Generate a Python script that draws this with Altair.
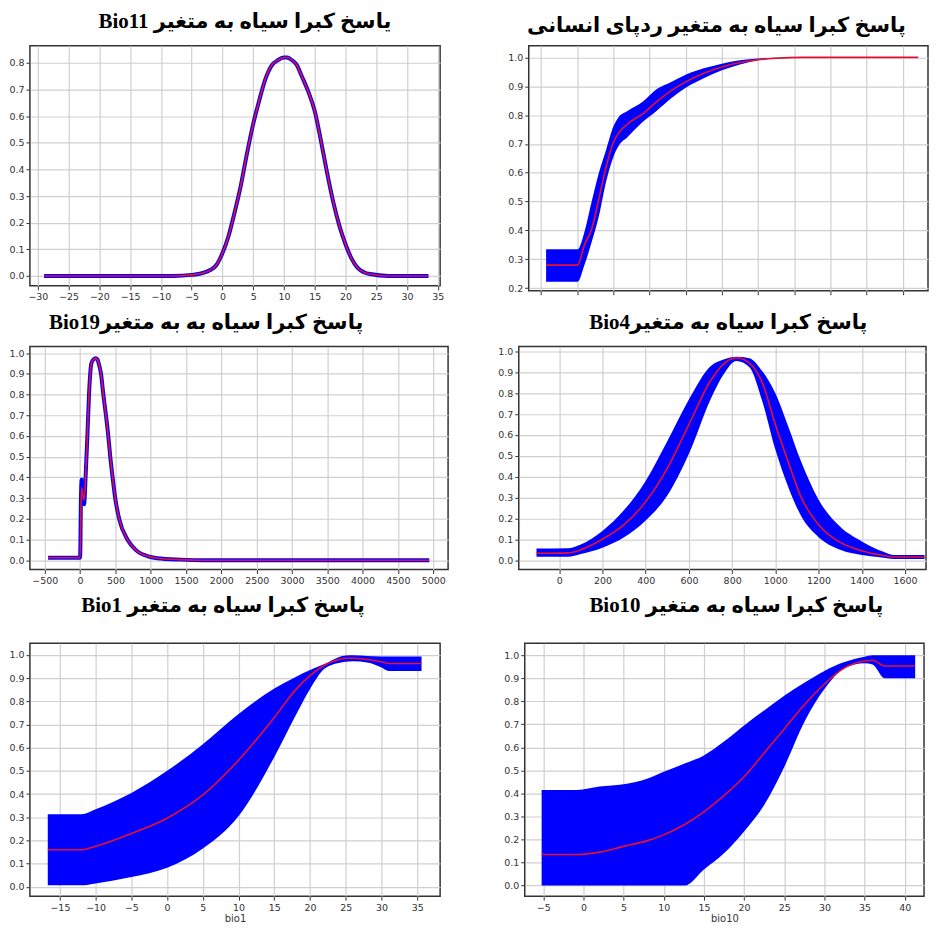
import altair as alt
import pandas as pd

# ---------------- data ----------------
# Bio11 (top-left)
bio11_x = [-29, -8, -5, -3, -2, -1, 0, 1, 2, 3, 4, 5, 6, 7, 8, 9, 10, 10.5, 11, 12, 13, 14, 15, 16, 17,
           18, 19, 20, 21, 22, 23, 24, 27, 33.5]
bio11_mean = [0, 0, 0.004, 0.012, 0.022, 0.04, 0.085, 0.15, 0.24, 0.34, 0.46, 0.57, 0.66, 0.74, 0.79,
              0.81, 0.82, 0.82, 0.815, 0.795, 0.745, 0.69, 0.62, 0.51, 0.39, 0.28, 0.19, 0.12, 0.065,
              0.03, 0.014, 0.007, 0.0, 0.0]

# Human footprint (top-right)
hf_x = [1.4, 10.1, 12, 14, 16, 18, 20, 21.3, 24, 28, 32, 36, 40, 45, 50, 55, 60, 65, 72, 80, 90, 104.3]
hf_mean = [0.28, 0.28, 0.35, 0.405, 0.51, 0.62, 0.705, 0.735, 0.77, 0.803, 0.847, 0.885, 0.915, 0.945,
           0.967, 0.982, 0.992, 0.997, 1.0, 1.0, 1.0, 1.0]
hf_upper = [0.335, 0.335, 0.395, 0.5, 0.6, 0.68, 0.76, 0.79, 0.815, 0.845, 0.89, 0.915, 0.94, 0.962,
            0.978, 0.99, 0.996, 0.999, 1.0, 1.0, 1.0, 1.0]
hf_lower = [0.222, 0.222, 0.28, 0.36, 0.45, 0.57, 0.655, 0.69, 0.725, 0.775, 0.815, 0.858, 0.895, 0.928,
            0.955, 0.975, 0.99, 0.996, 0.999, 1.0, 1.0, 1.0]

# Bio19 (middle-left)
bio19_x = [-453, 0, 12, 23, 40, 56, 80, 103, 126, 159, 190, 220, 245, 263, 296, 329, 366, 399, 427,
           460, 497, 553, 670, 787, 951, 1092, 1419, 1750, 4944]
bio19_mean = [0.012, 0.012, 0.25, 0.35, 0.31, 0.29, 0.42, 0.6, 0.8, 0.95, 0.97, 0.975, 0.97, 0.95, 0.9,
              0.8, 0.7, 0.6, 0.5, 0.4, 0.3, 0.2, 0.1, 0.05, 0.02, 0.01, 0.003, 0.0, 0.0]
bio19_band = [0.012, 0.012, 0.3, 0.39, 0.3, 0.27, 0.42, 0.6, 0.8, 0.95, 0.97, 0.975, 0.97, 0.95, 0.9,
              0.8, 0.7, 0.6, 0.5, 0.4, 0.3, 0.2, 0.1, 0.05, 0.02, 0.01, 0.003, 0.0, 0.0]

# Bio4 (middle-right)
bio4_x = [-105, 40, 100, 200, 300, 400, 500, 600, 700, 760, 820, 880, 940, 1000, 1060, 1120, 1200,
          1300, 1400, 1500, 1545, 1690]
bio4_mean = [0.033, 0.035, 0.05, 0.1, 0.17, 0.28, 0.44, 0.65, 0.86, 0.94, 0.97, 0.945, 0.85, 0.65, 0.47,
             0.3, 0.17, 0.085, 0.045, 0.022, 0.015, 0.015]
bio4_upper = [0.056, 0.057, 0.075, 0.14, 0.24, 0.38, 0.57, 0.77, 0.93, 0.962, 0.975, 0.968, 0.905, 0.8,
              0.64, 0.47, 0.29, 0.16, 0.09, 0.04, 0.025, 0.025]
bio4_lower = [0.016, 0.016, 0.03, 0.06, 0.11, 0.19, 0.31, 0.51, 0.77, 0.89, 0.955, 0.925, 0.76, 0.53,
              0.35, 0.21, 0.11, 0.05, 0.025, 0.012, 0.006, 0.006]

# Bio1 (bottom-left)
bio1_x = [-16.7, -12, -10, -5, 0, 5, 10, 15, 18, 20, 22, 24, 25, 26, 28, 30, 31, 35.6]
bio1_mean = [0.16, 0.16, 0.175, 0.23, 0.296, 0.396, 0.546, 0.73, 0.85, 0.91, 0.955, 0.98, 0.985, 0.985,
             0.98, 0.97, 0.963, 0.963]
bio1_upper = [0.313, 0.313, 0.335, 0.405, 0.5, 0.615, 0.745, 0.855, 0.905, 0.935, 0.96, 0.99, 0.997, 0.998,
              0.995, 0.993, 0.993, 0.993]
bio1_lower = [0.007, 0.007, 0.015, 0.042, 0.082, 0.165, 0.305, 0.56, 0.74, 0.853, 0.94, 0.965, 0.97, 0.972,
              0.967, 0.945, 0.93, 0.93]

# Bio10 (bottom-right)
bio10_x = [-5.2, -0.8, 2, 5, 8, 10, 12.6, 15, 17.5, 20, 22.5, 25, 27.5, 30, 32.5, 35, 36, 37.5, 41.3]
bio10_mean = [0.135, 0.135, 0.145, 0.17, 0.195, 0.22, 0.265, 0.32, 0.39, 0.472, 0.575, 0.68, 0.785, 0.875,
              0.945, 0.975, 0.978, 0.953, 0.953]
bio10_upper = [0.415, 0.415, 0.43, 0.44, 0.465, 0.494, 0.53, 0.565, 0.625, 0.695, 0.76, 0.824, 0.88, 0.932,
               0.97, 0.993, 1.0, 1.0, 1.0]
bio10_lower = [0.0, 0.0, 0.0, 0.0, 0.0, 0.0, 0.0, 0.07, 0.14, 0.235, 0.35, 0.515, 0.71, 0.853, 0.943,
               0.965, 0.96, 0.9, 0.9]

# ---------------- styling helpers ----------------
BLUE = "#0000ff"
RED = "#e8102e"
TITLE_FONT = "Liberation Serif, DejaVu Serif, DejaVu Sans"


def ticks(a, b, s):
    out = []
    v = a
    while v <= b + 1e-9:
        out.append(round(v, 6))
        v += s
    return out


def panel(df, kind, xdom, ydom, xvals, yvals, w, h, title, dx, offset, xtitle=None, xlabels=True):
    xs = alt.Scale(domain=xdom, nice=False, zero=False)
    ys = alt.Scale(domain=ydom, nice=False, zero=False)

    def xax():
        return alt.Axis(values=xvals, labels=xlabels, title=xtitle, format="d", labelFlush=False,
                        labelOverlap=False, tickCount=len(xvals))

    def yax():
        return alt.Axis(values=yvals, format=".1f", title=None, labelFlush=False, labelOverlap=False,
                        tickCount=len(yvals))

    base = alt.Chart(df)
    if kind == "area":
        band = base.mark_area(color=BLUE, opacity=1, interpolate="monotone").encode(
            x=alt.X("x:Q", scale=xs, axis=xax()),
            y=alt.Y("lower:Q", scale=ys, axis=yax()),
            y2="upper:Q",
        )
    else:
        band = base.mark_line(color=BLUE, strokeWidth=4, strokeJoin="round",
                              interpolate="monotone").encode(
            x=alt.X("x:Q", scale=xs, axis=xax()),
            y=alt.Y("band:Q", scale=ys, axis=yax()),
        )
    red = base.mark_line(color=RED, strokeWidth=1.6, interpolate="monotone").encode(
        x=alt.X("x:Q", scale=xs, axis=xax()),
        y=alt.Y("mean:Q", scale=ys, axis=yax()),
    )
    return alt.layer(band, red).properties(
        width=w, height=h,
        title=alt.TitleParams(text=title, font=TITLE_FONT, fontSize=21, fontWeight="bold",
                              color="#000000", anchor="middle", dx=dx, offset=offset),
    )


df11 = pd.DataFrame({"x": bio11_x, "mean": bio11_mean, "band": bio11_mean})
dfhf = pd.DataFrame({"x": hf_x, "mean": hf_mean, "lower": hf_lower, "upper": hf_upper})
df19 = pd.DataFrame({"x": bio19_x, "mean": bio19_mean, "band": bio19_band})
df4 = pd.DataFrame({"x": bio4_x, "mean": bio4_mean, "lower": bio4_lower, "upper": bio4_upper})
df1 = pd.DataFrame({"x": bio1_x, "mean": bio1_mean, "lower": bio1_lower, "upper": bio1_upper})
df10 = pd.DataFrame({"x": bio10_x, "mean": bio10_mean, "lower": bio10_lower, "upper": bio10_upper})

p11 = panel(df11, "line", [-31.3, 35.4], [-0.037, 0.864], ticks(-30, 35, 5), ticks(0, 0.8, 0.1),
            412, 241, "Bio11 یاسخ کبرا سیاه به متغیر", 10, 14)
phf = panel(dfhf, "area", [-3.4, 107], [0.191, 1.04], ticks(0, 100, 10), ticks(0.2, 1.0, 0.1),
            401, 246, "پاسخ کبرا سیاه به متغیر ردپای انسانی", -12, 10, xlabels=False)
p19 = panel(df19, "line", [-711, 5211], [-0.045, 1.032], ticks(-500, 5000, 500), ticks(0, 1.0, 0.1),
            420, 224, "Bio19پاسخ کبرا سیاه به به متغیر", -33, 14)
p4 = panel(df4, "area", [-187, 1697], [-0.045, 1.024], ticks(0, 1600, 200), ticks(0, 1.0, 0.1),
           409, 224, "Bio4پاسخ کبرا سیاه به متغیر", 6, 14)
p1 = panel(df1, "area", [-19.2, 38.2], [-0.04, 1.05], ticks(-15, 35, 5), ticks(0, 1.0, 0.1),
           412, 254, "Bio1 پاسخ کبرا سیاه به متغیر", -12, 27, xtitle="bio1")
p10 = panel(df10, "area", [-7.3, 42.4], [-0.046, 1.052], ticks(-5, 40, 5), ticks(0, 1.0, 0.1),
            401, 254, "Bio10 پاسخ کبرا سیاه به متغیر", 12, 27, xtitle="bio10")

row1 = alt.hconcat(p11, phf, spacing=62)
row2 = alt.hconcat(p19, p4, spacing=48)
row3 = alt.hconcat(p1, p10, spacing=62)

chart = alt.vconcat(row1, row2, row3, spacing=8).properties(
    padding={"left": 0, "top": 0, "right": 0, "bottom": 0}
).configure_view(
    stroke="#333333", strokeWidth=1.5
).configure_axis(
    grid=True, gridColor="#cfcfcf", gridWidth=1.2, domain=False,
    tickColor="#333333", tickSize=4, labelFont="DejaVu Sans", labelFontSize=9.5,
    labelColor="#333333", labelPadding=2, titleFont="DejaVu Sans", titleFontSize=10,
    titleFontWeight="normal", titleColor="#333333", titlePadding=2,
).configure_concat(spacing=8)

chart.save("out.html", embed_options={"renderer": "svg", "actions": False})
